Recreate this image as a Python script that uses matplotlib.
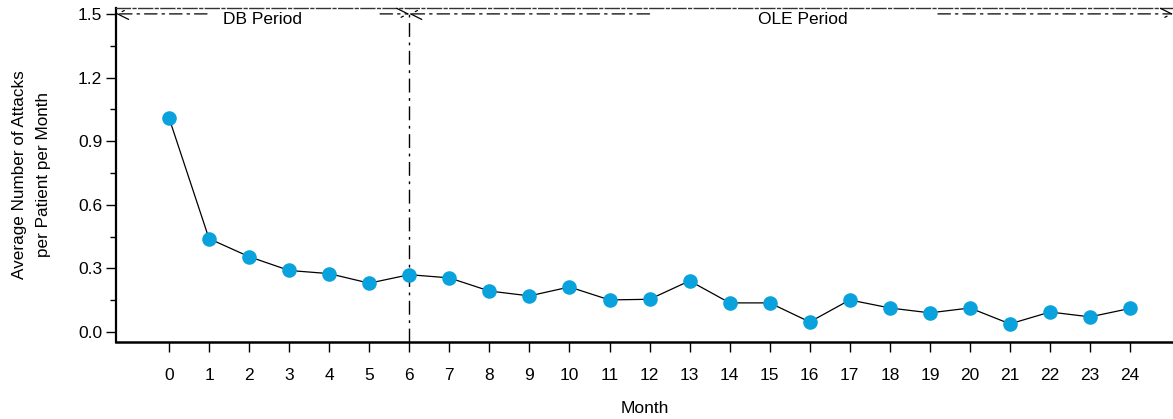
import matplotlib.pyplot as plt
import numpy as np
from matplotlib.ticker import MultipleLocator

plt.rcParams['font.family'] = ['Liberation Sans', 'DejaVu Sans']

# Data
months = list(range(0, 25))
attacks = [1.01, 0.44, 0.355, 0.29, 0.275, 0.23, 0.27, 0.255, 0.193, 0.17,
           0.212, 0.151, 0.154, 0.241, 0.137, 0.137, 0.047, 0.151, 0.113, 0.09,
           0.113, 0.038, 0.094, 0.071, 0.111]
periods = ["DB Period", "OLE Period"]
period_edges = [-1.32, 6, 25.07]
period_label_x = [2.34, 15.83]
# where the dash-dot arrow line is broken around each label
period_gaps = [(0.95, 5.27), (12.0, 19.2)]

fig = plt.figure(figsize=(11.73, 4.19), dpi=100)
ax = fig.add_axes([0.099, 0.184, 0.901, 0.797])

ax.plot(months, attacks, color="black", lw=0.9, zorder=2)
ax.plot(months, attacks, "o", color="#0aa2dc", ms=10.5, mec="none", zorder=3)

ax.set_xlim(period_edges[0], period_edges[-1])
ax.set_ylim(-0.047, 1.528)

dashdot = (0, (10, 4, 2, 4))

# period divider
ax.axvline(period_edges[1], color="black", lw=1, ls=dashdot, zorder=1)

# period arrows, broken around the label
for i, name in enumerate(periods):
    g0, g1 = period_gaps[i]
    for tip, tail in [(period_edges[i], g0), (period_edges[i + 1], g1)]:
        ax.annotate("", xy=(tip, 1.5), xytext=(tail, 1.5),
                    arrowprops=dict(arrowstyle="->", lw=0.9, ls=dashdot,
                                    color="black", shrinkA=0, shrinkB=0,
                                    mutation_scale=20))
    ax.text(period_label_x[i], 1.474, name, ha="center", va="center",
            fontsize=12.5, zorder=4)

ax.set_xticks(months)
ax.set_yticks([0.0, 0.3, 0.6, 0.9, 1.2, 1.5])
ax.set_yticklabels(["0.0", "0.3", "0.6", "0.9", "1.2", "1.5"])
ax.yaxis.set_minor_locator(MultipleLocator(0.15))
ax.tick_params(axis="x", length=7, width=1, pad=12, labelsize=12.5)
ax.tick_params(axis="y", which="major", length=7, width=1, pad=3, labelsize=12.5)
ax.tick_params(axis="y", which="minor", length=4, width=1)
for t in ax.xaxis.get_ticklines() + ax.yaxis.get_ticklines() + ax.yaxis.get_ticklines(minor=True):
    t.set_linestyle((0, (1.5, 1.5)))

ax.spines["right"].set_visible(False)
ax.spines["left"].set_linewidth(1.6)
ax.spines["left"].set_linestyle((0, (8, 1)))
ax.spines["bottom"].set_linewidth(1.8)
ax.spines["top"].set_linewidth(1.0)
ax.spines["top"].set_color("#333333")
ax.spines["top"].set_linestyle((0, (10, 2, 2, 2)))

ax.set_xlabel("Month", fontsize=12.5, labelpad=13)
ax.set_ylabel("Average Number of Attacks\nper Patient per Month", fontsize=12.3,
              labelpad=19, linespacing=1.75)

fig.savefig("out.png", dpi=100)
